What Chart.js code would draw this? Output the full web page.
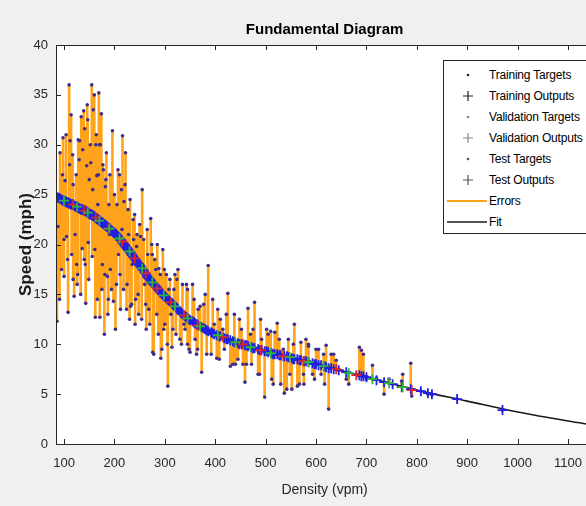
<!DOCTYPE html>
<html>
<head>
<meta charset="utf-8">
<script src="https://cdn.jsdelivr.net/npm/chart.js@4.4.1/dist/chart.umd.min.js"></script>
<style>
  html, body { margin: 0; padding: 0; background: #f0f0f0; }
  #wrap { position: relative; width: 586px; height: 506px; overflow: hidden; }
  #legend {
    position: absolute; left: 443px; top: 60px; width: 152px; height: 174px;
    background: #fff; border: 1px solid #262626; box-sizing: border-box;
    font-family: "Liberation Sans", Arial, sans-serif; font-size: 12px; color: #000;
  }
  .row { position: absolute; left: 0; width: 150px; height: 20px; }
  .row svg { position: absolute; left: 0; top: 0; }
  .row span { position: absolute; left: 45px; top: 3px; white-space: nowrap; letter-spacing: -0.2px; }
</style>
</head>
<body>
<div id="wrap">
  <canvas id="fd" width="600" height="506"></canvas>
  <div id="legend"></div>
</div>
<script>
// axis ticks
const xTicks = [100, 200, 300, 400, 500, 600, 700, 800, 900, 1000, 1100];
const yTicks = [0, 5, 10, 15, 20, 25, 30, 35, 40];

// training set: density, target speed, network output
const trainDensity = [86, 88, 92, 95, 98, 102, 105, 108, 110, 112, 115, 118, 122, 125, 128, 131, 134, 136, 139, 141,
  143, 145, 148, 150, 153, 155, 157, 160, 162, 165, 167, 169, 171, 174, 176, 178, 180, 182, 184, 186,
  189, 192, 196, 198, 202, 205, 208, 212, 216, 219, 222, 225, 228, 232, 235, 238, 242, 245, 248, 252,
  256, 260, 265, 268, 272, 276, 280, 284, 288, 292, 296, 300, 303, 306, 310, 314, 318, 322, 326, 330,
  335, 340, 345, 350, 355, 360, 366, 373, 380, 386, 392, 398, 403, 410, 418, 425, 430, 438, 445, 452,
  459, 465, 472, 478, 485, 492, 498, 505, 512, 518, 523, 530, 537, 545, 552, 557, 563, 570, 576, 585,
  593, 600, 610, 620, 625, 630, 645, 660, 686, 690, 694, 700, 720, 735, 752, 770, 788, 808, 822, 830,
  880, 970,
  91, 97, 100, 104, 107, 111, 114, 117, 120, 124, 127, 130, 133, 137, 142, 146, 149, 152, 156, 158,
  161, 164, 166, 168, 172, 175, 177, 181, 183, 187, 191, 194, 200, 204, 207, 211, 214, 218, 221, 224,
  227, 231, 234, 237, 241, 244, 247, 250, 254, 258, 263, 266, 270, 274, 278, 282, 287, 291, 294, 299,
  305, 308, 316, 324, 333, 343, 348, 358, 363, 377, 383, 395, 408, 422, 435, 448, 462, 475, 488, 502,
  515, 527, 542, 555, 567, 580, 597, 605, 617, 635];
const trainTarget = [12.3, 21.8, 29.2, 17.5, 30.7, 26.4, 20.8, 13.2, 36.0, 30.4, 19.0, 16.5, 21.0, 18.0, 30.5, 30.4, 32.8, 19.6, 33.4, 31.6,
  14.1, 27.9, 20.2, 26.5, 28.2, 36.0, 25.5, 35.0, 12.7, 26.9, 24.0, 35.2, 12.7, 33.1, 18.0, 27.5, 11.0, 25.8, 29.2, 16.8,
  24.0, 17.5, 31.4, 14.3, 11.5, 24.0, 19.0, 13.5, 30.9, 24.3, 29.2, 16.0, 21.0, 13.8, 18.0, 20.5, 14.5, 21.0, 13.0, 20.8,
  18.0, 16.0, 21.5, 13.5, 22.6, 9.2, 18.5, 13.0, 17.6, 8.6, 19.5, 12.0, 17.0, 5.8, 16.5, 9.7, 15.5, 11.0, 17.5, 10.5,
  16.0, 11.5, 15.5, 9.2, 16.0, 10.5, 13.5, 7.2, 15.0, 17.9, 9.0, 12.0, 8.6, 12.5, 9.5, 15.1, 7.8, 13.0, 8.5, 11.5,
  6.2, 13.6, 8.0, 14.2, 7.0, 10.5, 4.7, 11.0, 6.5, 11.2, 12.1, 6.0, 5.1, 10.5, 5.5, 12.0, 5.8, 10.2, 6.0, 9.8,
  7.0, 9.5, 7.0, 9.9, 3.5, 9.0, 7.4, 6.5, 9.7, 9.4, 9.0, 6.5, 6.6, 5.0, 6.0, 6.3, 8.1, 5.3, 5.0, 4.9,
  4.5, 3.4,
  14.5, 27.0, 16.8, 31.0, 18.5, 28.0, 33.0, 29.0, 14.8, 27.0, 17.0, 28.5, 15.0, 29.5, 18.0, 34.0, 16.5, 30.0, 18.8, 33.5,
  19.5, 31.0, 14.5, 27.0, 30.0, 15.5, 28.0, 17.0, 26.5, 13.0, 27.0, 15.5, 25.0, 16.0, 27.5, 17.0, 25.5, 15.5, 26.0, 13.5,
  23.5, 24.5, 14.0, 22.5, 12.0, 19.8, 15.0, 22.0, 12.5, 20.5, 11.5, 19.0, 12.0, 20.0, 9.0, 17.5, 11.0, 17.0, 9.5, 17.5,
  10.0, 15.5, 11.5, 16.5, 10.0, 16.0, 9.5, 14.5, 9.0, 14.0, 9.0, 14.5, 8.5, 13.0, 8.0, 12.5, 8.0, 11.5, 7.0, 11.5,
  6.0, 10.5, 5.5, 10.0, 6.0, 10.5, 6.5, 9.5, 6.0, 9.0];
const trainOutput = [24.7, 24.7, 24.6, 24.5, 24.4, 24.3, 24.2, 24.2, 24.1, 24.1, 24.0, 24.0, 23.8, 23.8, 23.7, 23.6, 23.5, 23.5, 23.4, 23.4,
  23.3, 23.3, 23.2, 23.1, 23.0, 23.0, 22.9, 22.8, 22.7, 22.6, 22.5, 22.4, 22.4, 22.2, 22.2, 22.1, 22.0, 21.9, 21.8, 21.8,
  21.6, 21.5, 21.3, 21.2, 21.1, 20.9, 20.7, 20.5, 20.2, 20.0, 19.8, 19.6, 19.4, 19.2, 18.9, 18.7, 18.5, 18.2, 18.0, 17.8,
  17.5, 17.2, 16.8, 16.6, 16.4, 16.1, 15.9, 15.7, 15.4, 15.2, 15.0, 14.8, 14.6, 14.5, 14.3, 14.1, 13.9, 13.7, 13.5, 13.3,
  13.0, 12.8, 12.6, 12.4, 12.3, 12.1, 11.9, 11.7, 11.5, 11.3, 11.2, 11.0, 10.9, 10.8, 10.6, 10.5, 10.4, 10.2, 10.1, 10.0,
  9.9, 9.8, 9.7, 9.6, 9.5, 9.4, 9.3, 9.2, 9.1, 9.0, 9.0, 8.9, 8.8, 8.7, 8.6, 8.5, 8.5, 8.4, 8.3, 8.2,
  8.1, 8.0, 7.9, 7.7, 7.6, 7.6, 7.4, 7.2, 6.9, 6.8, 6.8, 6.7, 6.4, 6.2, 6.0, 5.7, 5.5, 5.3, 5.1, 5.0,
  4.5, 3.4,
  24.6, 24.4, 24.4, 24.3, 24.2, 24.1, 24.0, 24.0, 23.9, 23.8, 23.7, 23.6, 23.5, 23.5, 23.4, 23.2, 23.1, 23.0, 22.9, 22.9,
  22.8, 22.6, 22.6, 22.5, 22.3, 22.2, 22.1, 22.0, 21.9, 21.7, 21.6, 21.4, 21.2, 21.0, 20.8, 20.5, 20.4, 20.1, 19.9, 19.7,
  19.5, 19.2, 19.0, 18.8, 18.5, 18.3, 18.1, 17.9, 17.6, 17.4, 17.0, 16.7, 16.5, 16.2, 16.0, 15.8, 15.5, 15.2, 15.1, 14.8,
  14.5, 14.4, 14.0, 13.6, 13.1, 12.7, 12.5, 12.2, 12.0, 11.6, 11.4, 11.1, 10.8, 10.5, 10.3, 10.0, 9.9, 9.6, 9.4, 9.3,
  9.0, 8.9, 8.8, 8.5, 8.4, 8.3, 8.0, 7.9, 7.8, 7.5];

// validation set
const valDensity = [100, 126, 147, 170, 190, 210, 230, 255, 275, 298, 320, 345, 370, 405, 440, 470, 510, 548, 585, 615, 665, 712, 745, 772];
const valTarget = [20.5, 16.0, 32.5, 30.0, 21.0, 27.0, 12.5, 25.5, 19.0, 11.5, 17.0, 10.0, 13.8, 13.5, 8.0, 11.0, 11.3, 7.0, 10.0, 9.0, 6.0, 7.9, 6.5, 7.0];
const valOutput = [24.4, 23.8, 23.2, 22.4, 21.6, 20.6, 19.3, 17.6, 16.2, 14.9, 13.8, 12.6, 11.8, 10.9, 10.2, 9.7, 9.1, 8.7, 8.2, 7.8, 7.1, 6.5, 6.1, 5.7];

// test set
const testDensity = [118, 140, 163, 188, 215, 240, 262, 285, 312, 338, 365, 415, 455, 490, 535, 575, 640, 680, 790];
const testTarget = [26.0, 18.5, 30.0, 14.5, 21.5, 23.0, 14.0, 20.0, 13.0, 12.0, 9.5, 11.5, 8.0, 12.5, 9.5, 7.0, 8.4, 7.0, 4.8];
const testOutput = [24.0, 23.4, 22.7, 21.6, 20.3, 18.6, 17.1, 15.6, 14.2, 12.9, 11.9, 10.7, 10.0, 9.4, 8.8, 8.3, 7.5, 6.9, 5.4];

// fitted curve
const fitDensity = [84, 150, 200, 250, 300, 350, 400, 500, 600, 700, 800, 900, 1000, 1100, 1150];
const fitSpeed = [24.8, 23.1, 21.2, 17.9, 14.8, 12.4, 11.0, 9.3, 8.0, 6.7, 5.4, 4.3, 3.2, 2.3, 1.9];

const FONT = '"Liberation Sans", Arial, sans-serif';
const targetColor = '#3d2d8c';

function pts(xs, ys) {
  return xs.map((x, i) => ({ x: x, y: ys[i] }));
}

const errorData = [];
[[trainDensity, trainTarget, trainOutput], [valDensity, valTarget, valOutput], [testDensity, testTarget, testOutput]].forEach(set => {
  set[0].forEach((d, i) => {
    errorData.push({ x: d, y: set[1][i] }, { x: d, y: set[2][i] }, { x: d, y: null });
  });
});

const framePlugin = {
  id: 'frame',
  beforeDraw(chart) {
    const c = chart.ctx, a = chart.chartArea;
    c.save();
    c.fillStyle = '#f0f0f0';
    c.fillRect(0, 0, chart.width, chart.height);
    c.fillStyle = '#ffffff';
    c.fillRect(a.left, a.top, a.right - a.left, a.bottom - a.top);
    c.restore();
  },
  afterDraw(chart) {
    const c = chart.ctx, a = chart.chartArea;
    const xs = chart.scales.x, ys = chart.scales.y;
    c.save();
    c.strokeStyle = '#262626';
    c.lineWidth = 1;
    c.strokeRect(a.left + 0.5, a.top + 0.5, a.right - a.left, a.bottom - a.top);
    c.beginPath();
    xTicks.forEach(v => {
      const px = Math.round(xs.getPixelForValue(v)) + 0.5;
      c.moveTo(px, a.bottom); c.lineTo(px, a.bottom - 5);
      c.moveTo(px, a.top); c.lineTo(px, a.top + 5);
    });
    yTicks.forEach(v => {
      const py = Math.round(ys.getPixelForValue(v)) + 0.5;
      c.moveTo(a.left, py); c.lineTo(a.left + 5, py);
    });
    c.stroke();
    c.restore();
  }
};

const ctx = document.getElementById('fd').getContext('2d');
const chart = new Chart(ctx, {
  type: 'scatter',
  data: {
    datasets: [
      { label: 'Errors', data: errorData, showLine: true, spanGaps: false, borderColor: '#ffa41a', borderWidth: 2.6, pointRadius: 0, order: 6 },
      { label: 'Fit', data: pts(fitDensity, fitSpeed), showLine: true, borderColor: '#1a1a1a', borderWidth: 1.6, pointRadius: 0, cubicInterpolationMode: 'monotone', order: 5 },
      { label: 'Training Targets', data: pts(trainDensity, trainTarget), pointRadius: 1.8, pointBackgroundColor: targetColor, pointBorderWidth: 0, order: 4 },
      { label: 'Validation Targets', data: pts(valDensity, valTarget), pointRadius: 1.8, pointBackgroundColor: targetColor, pointBorderWidth: 0, order: 4 },
      { label: 'Test Targets', data: pts(testDensity, testTarget), pointRadius: 1.8, pointBackgroundColor: targetColor, pointBorderWidth: 0, order: 4 },
      { label: 'Training Outputs', data: pts(trainDensity, trainOutput), pointStyle: 'cross', pointRadius: 5, pointBorderColor: '#1f1fe6', pointBorderWidth: 1.8, order: 2 },
      { label: 'Validation Outputs', data: pts(valDensity, valOutput), pointStyle: 'cross', pointRadius: 5, pointBorderColor: '#2fb53a', pointBorderWidth: 1.8, order: 1 },
      { label: 'Test Outputs', data: pts(testDensity, testOutput), pointStyle: 'cross', pointRadius: 5, pointBorderColor: '#d9262b', pointBorderWidth: 1.8, order: 1 }
    ]
  },
  options: {
    responsive: false,
    animation: false,
    layout: { padding: { left: 4, right: 0, top: 0, bottom: 0 } },
    plugins: {
      legend: { display: false },
      tooltip: { enabled: false }
    },
    scales: {
      x: {
        type: 'linear', position: 'bottom', min: 84, max: 1150,
        afterBuildTicks: s => { s.ticks = xTicks.map(v => ({ value: v })); },
        grid: { display: false, drawTicks: false },
        border: { display: false },
        ticks: { color: '#262626', font: { family: FONT, size: 13 }, padding: 12, maxRotation: 0, callback: v => String(v) },
        title: { display: true, text: 'Density (vpm)', color: '#262626', font: { family: FONT, size: 14 }, padding: { top: 4, bottom: 7 } },
        afterFit: s => { s.height = 62; }
      },
      x2: {
        type: 'linear', position: 'top', min: 84, max: 1150,
        grid: { display: false, drawTicks: false },
        border: { display: false },
        ticks: { display: false },
        title: { display: true, text: 'Fundamental Diagram', color: '#000', font: { family: FONT, size: 15, weight: 'bold' }, padding: { top: 21, bottom: 6 } },
        afterFit: s => { s.height = 45; }
      },
      y: {
        type: 'linear', min: 0, max: 40,
        afterBuildTicks: s => { s.ticks = yTicks.map(v => ({ value: v })); },
        grid: { display: false, drawTicks: false },
        border: { display: false },
        ticks: { color: '#262626', font: { family: FONT, size: 13 }, padding: 8, callback: v => String(v) },
        title: { display: true, text: 'Speed (mph)', color: '#1a1a1a', font: { family: FONT, size: 17, weight: 'bold' }, padding: { top: 12, bottom: 0 } },
        afterFit: s => { s.width = 52; }
      }
    }
  },
  plugins: [framePlugin]
});

// legend box drawn as html
const legendItems = [
  { label: 'Training Targets', kind: 'dot', color: '#222' },
  { label: 'Training Outputs', kind: 'plus', color: '#222' },
  { label: 'Validation Targets', kind: 'dot', color: '#888' },
  { label: 'Validation Outputs', kind: 'plus', color: '#888' },
  { label: 'Test Targets', kind: 'dot', color: '#555' },
  { label: 'Test Outputs', kind: 'plus', color: '#555' },
  { label: 'Errors', kind: 'line', color: '#ffa41a' },
  { label: 'Fit', kind: 'line', color: '#1a1a1a' }
];
const legend = document.getElementById('legend');
legendItems.forEach((it, i) => {
  const row = document.createElement('div');
  row.className = 'row';
  row.style.top = (4 + i * 21) + 'px';
  let mark = '';
  if (it.kind === 'dot') mark = '<circle cx="24" cy="10" r="1.3" fill="' + it.color + '"/>';
  if (it.kind === 'plus') mark = '<path d="M24 5V15M19 10H29" stroke="' + it.color + '" stroke-width="1.2"/>';
  if (it.kind === 'line') mark = '<path d="M3 10H43" stroke="' + it.color + '" stroke-width="' + (it.label === 'Errors' ? 2 : 1.5) + '"/>';
  row.innerHTML = '<svg width="44" height="20">' + mark + '</svg><span>' + it.label + '</span>';
  legend.appendChild(row);
});
</script>
</body>
</html>
